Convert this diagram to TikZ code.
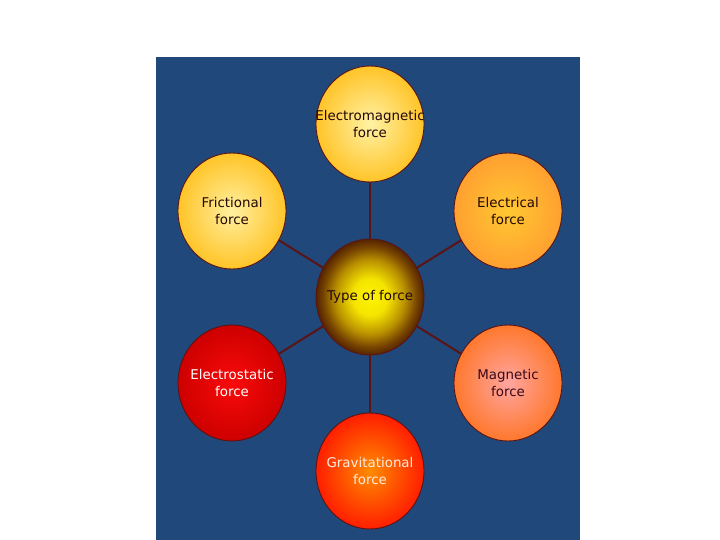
\documentclass[tikz,border=0pt]{standalone}
\usepackage{fontspec}
\setmainfont{DejaVu Sans}
\usetikzlibrary{shapes.geometric}
\definecolor{bgblue}{HTML}{21487A}
\definecolor{rim}{HTML}{5A1414}
\definecolor{darktxt}{HTML}{220808}
\pgfdeclareradialshading{centreball}{\pgfpoint{0bp}{0bp}}{%
  color(0bp)=(rgb,255:red,255;green,245;blue,0);
  color(8bp)=(rgb,255:red,245;green,228;blue,0);
  color(16bp)=(rgb,255:red,185;green,145;blue,0);
  color(21.5bp)=(rgb,255:red,120;green,70;blue,0);
  color(25bp)=(rgb,255:red,85;green,35;blue,0);
  color(50bp)=(rgb,255:red,85;green,35;blue,0)}
\tikzset{
  forcenode/.style={ellipse, draw=rim, line width=0.9pt, minimum width=108pt, minimum height=116pt,
    inner sep=0pt},
  forcetext/.style={inner sep=0pt, align=center, font=\fontsize{13.4}{17}\selectfont, text=darktxt},
  connector/.style={draw=rim, line width=2pt}
}
\begin{document}
\begin{tikzpicture}[x=1pt,y=-1pt]
\useasboundingbox (0,0) rectangle (720,540);
\fill[bgblue] (156,57) rectangle (580,540);
\node[forcenode, inner color={rgb,255:red,255;green,242;blue,165}, outer color={rgb,255:red,255;green,196;blue,40}] (em) at (370,124) {};
\node[forcenode, inner color={rgb,255:red,255;green,240;blue,160}, outer color={rgb,255:red,255;green,196;blue,40}] (fr) at (232,211) {};
\node[forcenode, inner color={rgb,255:red,255;green,200;blue,50}, outer color={rgb,255:red,255;green,160;blue,48}] (el) at (508,211) {};
\node[forcenode, shading=centreball] (c) at (370,297) {};
\node[forcenode, inner color={rgb,255:red,250;green,10;blue,10}, outer color={rgb,255:red,205;green,0;blue,0}] (es) at (232,383) {};
\node[forcenode, inner color={rgb,255:red,255;green,165;blue,160}, outer color={rgb,255:red,255;green,120;blue,45}] (mg) at (508,383) {};
\node[forcenode, inner color={rgb,255:red,255;green,140;blue,0}, outer color={rgb,255:red,255;green,30;blue,0}] (gr) at (370,471) {};
\node[forcetext] (emt) at (em) {Electromagnetic\\force};
\node[forcetext] (frt) at (fr) {Frictional\\force};
\node[forcetext] (elt) at (el) {Electrical\\force};
\node[forcetext] (ct) at (c) {Type of force};
\node[forcetext, text=white] (est) at (es) {Electrostatic\\force};
\node[forcetext, text={rgb,255:red,58;green,10;blue,26}] (mgt) at (mg) {Magnetic\\force};
\node[forcetext, text={rgb,255:red,255;green,235;blue,225}] (grt) at (gr) {Gravitational\\force};
\draw[connector] (c) -- (em);
\draw[connector] (c) -- (fr);
\draw[connector] (c) -- (el);
\draw[connector] (c) -- (es);
\draw[connector] (c) -- (mg);
\draw[connector] (c) -- (gr);
\end{tikzpicture}
\end{document}
